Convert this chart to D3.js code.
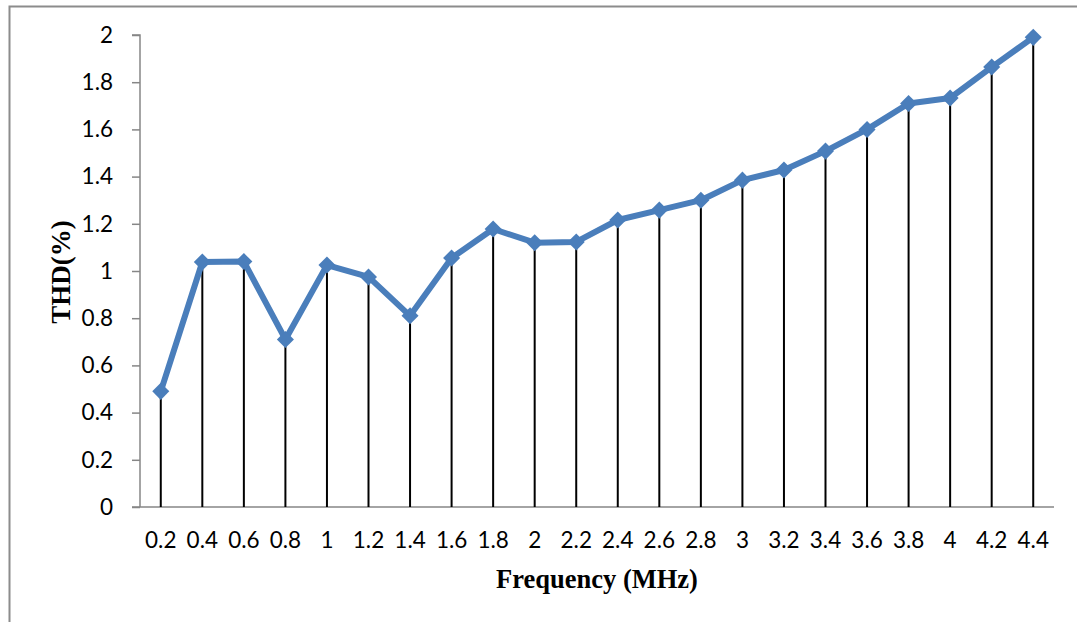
<!DOCTYPE html>
<html>
<head>
<meta charset="utf-8">
<script src="https://cdn.jsdelivr.net/npm/d3@7"></script>
<style>
  body { margin: 0; background: #fff; }
  svg { display: block; }
</style>
</head>
<body>
<svg width="1077" height="622"></svg>
<script>
// frequency categories (MHz)
var freqs = ["0.2", "0.4", "0.6", "0.8", "1", "1.2", "1.4", "1.6", "1.8", "2", "2.2",
             "2.4", "2.6", "2.8", "3", "3.2", "3.4", "3.6", "3.8", "4", "4.2", "4.4"];
// THD values (%)
var thd = [0.49, 1.038, 1.04, 0.71, 1.025, 0.975, 0.81, 1.055, 1.178, 1.12, 1.123,
           1.216, 1.258, 1.30, 1.385, 1.428, 1.508, 1.60, 1.71, 1.733, 1.864, 1.99];
var yTicks = [0, 0.2, 0.4, 0.6, 0.8, 1, 1.2, 1.4, 1.6, 1.8, 2];

var svg = d3.select("svg");
var mLeft = 140, mRight = 1054, mTop = 35, mBottom = 507;

// outer frame (only top and left edge visible)
svg.append("path")
    .attr("d", "M9.5,622 L9.5,6.5 L1077,6.5")
    .attr("fill", "none")
    .attr("stroke", "#8c8c8c")
    .attr("stroke-width", 2);

var x = d3.scaleBand().domain(freqs).range([mLeft, mRight]);
var y = d3.scaleLinear().domain([0, 2]).range([mBottom, mTop]);

var data = freqs.map(function (f, i) { return { f: f, v: thd[i] }; });

// y axis
var yAxis = svg.append("g")
    .attr("transform", "translate(" + mLeft + ",0)")
    .call(d3.axisLeft(y).tickValues(yTicks).tickSize(8).tickPadding(19)
        .tickFormat(function (d) { return d3.format("~g")(d); }));
yAxis.selectAll("line, path").attr("stroke", "#868686").attr("stroke-width", 1.5);
yAxis.select(".domain").attr("d", "M0," + mBottom + "V" + mTop + "H-8");

// x axis
var xAxis = svg.append("g")
    .attr("transform", "translate(0," + mBottom + ")")
    .call(d3.axisBottom(x).tickSize(0).tickPadding(25));
xAxis.select(".domain").attr("stroke", "#868686").attr("stroke-width", 1.5)
    .attr("d", "M" + (mLeft - 8) + ",0H" + mRight);

svg.selectAll(".tick text")
    .style("font-family", "Lato, 'Open Sans', sans-serif")
    .style("font-size", "22.5px")
    .attr("fill", "#000");

// drop lines
svg.append("g").selectAll("line")
    .data(data)
    .enter()
    .append("line")
    .attr("x1", function (d) { return x(d.f) + x.bandwidth() / 2; })
    .attr("x2", function (d) { return x(d.f) + x.bandwidth() / 2; })
    .attr("y1", function (d) { return y(d.v); })
    .attr("y2", mBottom)
    .attr("stroke", "#000")
    .attr("stroke-width", 2);

// series line
var line = d3.line()
    .x(function (d) { return x(d.f) + x.bandwidth() / 2; })
    .y(function (d) { return y(d.v); });

svg.append("path")
    .datum(data)
    .attr("d", line)
    .attr("fill", "none")
    .attr("stroke", "#4a7ebb")
    .attr("stroke-width", 6)
    .attr("stroke-linejoin", "round");

// diamond markers
svg.append("g").selectAll("path")
    .data(data)
    .enter()
    .append("path")
    .attr("d", d3.symbol().type(d3.symbolDiamond2).size(185))
    .attr("transform", function (d) {
        return "translate(" + (x(d.f) + x.bandwidth() / 2) + "," + y(d.v) + ")";
    })
    .attr("fill", "#4a7ebb");

// axis titles
svg.append("text")
    .attr("x", 597)
    .attr("y", 588)
    .attr("text-anchor", "middle")
    .style("font-family", "'Liberation Serif', 'Times New Roman', serif")
    .style("font-weight", "bold")
    .style("font-size", "26.5px")
    .text("Frequency (MHz)");

svg.append("text")
    .attr("transform", "translate(70,272) rotate(-90)")
    .attr("text-anchor", "middle")
    .style("font-family", "'Liberation Serif', 'Times New Roman', serif")
    .style("font-weight", "bold")
    .style("font-size", "27px")
    .text("THD(%)");
</script>
</body>
</html>
